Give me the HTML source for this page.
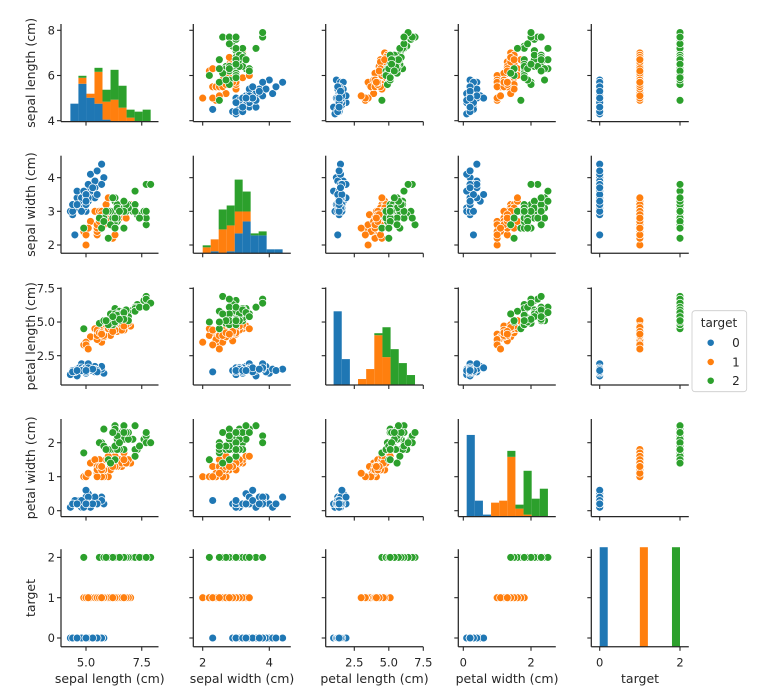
<!DOCTYPE html>
<html><head><meta charset="utf-8"><style>
html,body{margin:0;padding:0;background:#fff;}
svg{display:block;font-family:"DejaVu Sans","Liberation Sans",sans-serif;}
</style></head><body>
<svg id="chart" width="759" height="699" viewBox="0 0 759 699" xmlns="http://www.w3.org/2000/svg"></svg>
<script>
const sepalLength=[5.1,4.9,4.7,4.6,5.0,5.4,4.6,5.0,4.4,4.9,5.4,4.8,4.8,4.3,5.8,5.7,5.4,5.1,5.7,5.1,5.4,5.1,4.6,5.1,4.8,5.0,5.0,5.2,5.2,4.7,4.8,5.4,5.2,5.5,4.9,5.0,5.5,4.9,4.4,5.1,5.0,4.5,4.4,5.0,5.1,4.8,5.1,4.6,5.3,5.0,
7.0,6.4,6.9,5.5,6.5,5.7,6.3,4.9,6.6,5.2,5.0,5.9,6.0,6.1,5.6,6.7,5.6,5.8,6.2,5.6,5.9,6.1,6.3,6.1,6.4,6.6,6.8,6.7,6.0,5.7,5.5,5.5,5.8,6.0,5.4,6.0,6.7,6.3,5.6,5.5,5.5,6.1,5.8,5.0,5.6,5.7,5.7,6.2,5.1,5.7,
6.3,5.8,7.1,6.3,6.5,7.6,4.9,7.3,6.7,7.2,6.5,6.4,6.8,5.7,5.8,6.4,6.5,7.7,7.7,6.0,6.9,5.6,7.7,6.3,6.7,7.2,6.2,6.1,6.4,7.2,7.4,7.9,6.4,6.3,6.1,7.7,6.3,6.4,6.0,6.9,6.7,6.9,5.8,6.8,6.7,6.7,6.3,6.5,6.2,5.9];
const sepalWidth=[3.5,3.0,3.2,3.1,3.6,3.9,3.4,3.4,2.9,3.1,3.7,3.4,3.0,3.0,4.0,4.4,3.9,3.5,3.8,3.8,3.4,3.7,3.6,3.3,3.4,3.0,3.4,3.5,3.4,3.2,3.1,3.4,4.1,4.2,3.1,3.2,3.5,3.6,3.0,3.4,3.5,2.3,3.2,3.5,3.8,3.0,3.8,3.2,3.7,3.3,
3.2,3.2,3.1,2.3,2.8,2.8,3.3,2.4,2.9,2.7,2.0,3.0,2.2,2.9,2.9,3.1,3.0,2.7,2.2,2.5,3.2,2.8,2.5,2.8,2.9,3.0,2.8,3.0,2.9,2.6,2.4,2.4,2.7,2.7,3.0,3.4,3.1,2.3,3.0,2.5,2.6,3.0,2.6,2.3,2.7,3.0,2.9,2.9,2.5,2.8,
3.3,2.7,3.0,2.9,3.0,3.0,2.5,2.9,2.5,3.6,3.2,2.7,3.0,2.5,2.8,3.2,3.0,3.8,2.6,2.2,3.2,2.8,2.8,2.7,3.3,3.2,2.8,3.0,2.8,3.0,2.8,3.8,2.8,2.8,2.6,3.0,3.4,3.1,3.0,3.1,3.1,3.1,2.7,3.2,3.3,3.0,2.5,3.0,3.4,3.0];
const petalLength=[1.4,1.4,1.3,1.5,1.4,1.7,1.4,1.5,1.4,1.5,1.5,1.6,1.4,1.1,1.2,1.5,1.3,1.4,1.7,1.5,1.7,1.5,1.0,1.7,1.9,1.6,1.6,1.5,1.4,1.6,1.6,1.5,1.5,1.4,1.5,1.2,1.3,1.4,1.3,1.5,1.3,1.3,1.3,1.6,1.9,1.4,1.6,1.4,1.5,1.4,
4.7,4.5,4.9,4.0,4.6,4.5,4.7,3.3,4.6,3.9,3.5,4.2,4.0,4.7,3.6,4.4,4.5,4.1,4.5,3.9,4.8,4.0,4.9,4.7,4.3,4.4,4.8,5.0,4.5,3.5,3.8,3.7,3.9,5.1,4.5,4.5,4.7,4.4,4.1,4.0,4.4,4.6,4.0,3.3,4.2,4.2,4.2,4.3,3.0,4.1,
6.0,5.1,5.9,5.6,5.8,6.6,4.5,6.3,5.8,6.1,5.1,5.3,5.5,5.0,5.1,5.3,5.5,6.7,6.9,5.0,5.7,4.9,6.7,4.9,5.7,6.0,4.8,4.9,5.6,5.8,6.1,6.4,5.6,5.1,5.6,6.1,5.6,5.5,4.8,5.4,5.6,5.1,5.1,5.9,5.7,5.2,5.0,5.2,5.4,5.1];
const petalWidth=[0.2,0.2,0.2,0.2,0.2,0.4,0.3,0.2,0.2,0.1,0.2,0.2,0.1,0.1,0.2,0.4,0.4,0.3,0.3,0.3,0.2,0.4,0.2,0.5,0.2,0.2,0.4,0.2,0.2,0.2,0.2,0.4,0.1,0.2,0.2,0.2,0.2,0.1,0.2,0.2,0.3,0.3,0.2,0.6,0.4,0.3,0.2,0.2,0.2,0.2,
1.4,1.5,1.5,1.3,1.5,1.3,1.6,1.0,1.3,1.4,1.0,1.5,1.0,1.4,1.3,1.4,1.5,1.0,1.5,1.1,1.8,1.3,1.5,1.2,1.3,1.4,1.4,1.7,1.5,1.0,1.1,1.0,1.2,1.6,1.5,1.6,1.5,1.3,1.3,1.3,1.2,1.4,1.2,1.0,1.3,1.2,1.3,1.3,1.1,1.3,
2.5,1.9,2.1,1.8,2.2,2.1,1.7,1.8,1.8,2.5,2.0,1.9,2.1,2.0,2.4,2.3,1.8,2.2,2.3,1.5,2.3,2.0,2.0,1.8,2.1,1.8,1.8,1.8,2.1,1.6,1.9,2.0,2.2,1.5,1.4,2.3,2.4,1.8,1.8,2.1,2.4,2.3,1.9,2.3,2.5,2.3,1.9,2.0,2.3,1.8];
const target=[];for(let i=0;i<150;i++)target.push(i<50?0:(i<100?1:2));
const varLabels=["sepal length (cm)","sepal width (cm)","petal length (cm)","petal width (cm)","target"];
const varNames=["sepal-length","sepal-width","petal-length","petal-width","target"];
const xTickVals=[[5.0,7.5],[2,4],[2.5,5.0,7.5],[0,2],[0,2]];
const xTickText=[["5.0","7.5"],["2","4"],["2.5","5.0","7.5"],["0","2"],["0","2"]];
const yTickVals=[[4,6,8],[2,3,4],[2.5,5.0,7.5],[0,1,2],[0,1,2]];
const yTickText=[["4","6","8"],["2","3","4"],["2.5","5.0","7.5"],["0","1","2"],["0","1","2"]];
const classes=[0,1,2];
const data=[sepalLength,sepalWidth,petalLength,petalWidth,target];

const colors=["#1f77b4","#ff7f0e","#2ca02c"];
const colLeft=[61,193.3,325.7,458.3,591.3], W=97.5;
const rowTop=[24,155.7,287.4,419,549.2], H=97.6;
const xAnchor=[[5,86,22.3],[2,202.7,33.3],[2.5,354.3,13.8],[0,463.3,33.85],[0,599.7,40.15]];
const yAnchor=[[4,120.7,22.6],[2,245,33.67],[2.5,355.7,13.47],[0,510.7,34],[0,638,40.3]];
function xs(c,v){const a=xAnchor[c];return a[1]+(v-a[0])*a[2];}
function ys(r,v){const a=yAnchor[r];return a[1]-(v-a[0])*a[2];}
const NS="http://www.w3.org/2000/svg";
const svg=document.getElementById('chart');
function mk(tag,attrs,parent){const e=document.createElementNS(NS,tag);for(const k in attrs)e.setAttribute(k,attrs[k]);(parent||svg).appendChild(e);return e;}
const ink="#262626";
const HIST_MAX=49;

for(let r=0;r<5;r++){for(let c=0;c<5;c++){
  const g=mk('g',{});
  
  
  const L=colLeft[c],T=rowTop[r],B=T+H,R=L+W;
  if(r===c){
    const vals=data[c];let mn=Math.min(...vals),mx=Math.max(...vals);
    const nb=10,bw=(mx-mn)/nb;const base=new Array(nb).fill(0);
    for(const k of classes){
      const cnt=new Array(nb).fill(0);
      for(let i=0;i<150;i++){if(target[i]!==k)continue;let b=Math.floor((vals[i]-mn)/bw+1e-9);if(b>=nb)b=nb-1;cnt[b]++;}
      for(let b=0;b<nb;b++){if(!cnt[b])continue;
        const x0=xs(c,mn+b*bw),x1=xs(c,mn+(b+1)*bw);
        const y0=B-base[b]/HIST_MAX*H,y1=B-(base[b]+cnt[b])/HIST_MAX*H;
        const rect=mk('rect',{x:x0,y:y1,width:x1-x0,height:y0-y1,fill:colors[k]},g);
        
        
        base[b]+=cnt[b];}
    }
  } else {
    for(const k of classes){for(let i=0;i<150;i++){if(target[i]!==k)continue;
      const p=mk('circle',{cx:xs(c,data[c][i]),cy:ys(r,data[r][i]),r:3.9,fill:colors[k],stroke:'#fff','stroke-width':0.7},g);
      
      }}
  }
  mk('line',{x1:L,y1:T,x2:L,y2:B,stroke:ink,'stroke-width':1.25},g);
  mk('line',{x1:L,y1:B,x2:R,y2:B,stroke:ink,'stroke-width':1.25},g);
  xTickVals[c].forEach((v,j)=>{const x=xs(c,v);mk('line',{x1:x,y1:B,x2:x,y2:B+4,stroke:ink,'stroke-width':1.1},g);
    if(r===4){const t=mk('text',{x:x,y:666.5,'text-anchor':'middle','font-size':11.5,fill:ink},g);t.textContent=xTickText[c][j];
      }});
  yTickVals[r].forEach((v,j)=>{const y=ys(r,v);mk('line',{x1:L-4,y1:y,x2:L,y2:y,stroke:ink,'stroke-width':1.1},g);
    if(c===0){const t=mk('text',{x:L-6,y:y+4.2,'text-anchor':'end','font-size':11.5,fill:ink},g);t.textContent=yTickText[r][j];
      }});
}}
for(let c=0;c<5;c++){const t=mk('text',{x:colLeft[c]+W/2,y:683,'text-anchor':'middle','font-size':12.5,fill:ink});t.textContent=varLabels[c];
  }
for(let r=0;r<5;r++){const cy=rowTop[r]+H/2;const t=mk('text',{x:35,y:cy,'text-anchor':'middle','font-size':12.5,fill:ink,transform:'rotate(-90 35 '+cy+')'});t.textContent=varLabels[r];
  }
const lg=mk('g',{});


mk('rect',{x:692,y:310.7,width:54.7,height:81,rx:3,fill:'#fff',stroke:'#ccc','stroke-width':0.8},lg);
const lt=mk('text',{x:719,y:327,'text-anchor':'middle','font-size':12,fill:ink},lg);lt.textContent='target';


const legY=[342.7,362,380.7];
classes.forEach((k,j)=>{const e=mk('g',{},lg);
  
  
  mk('circle',{cx:710.7,cy:legY[j],r:3.6,fill:colors[k],stroke:'#fff','stroke-width':0.7},e);
  const t=mk('text',{x:736,y:legY[j]+4.3,'text-anchor':'middle','font-size':12,fill:ink},e);t.textContent=String(k);});
</script>
</body></html>
